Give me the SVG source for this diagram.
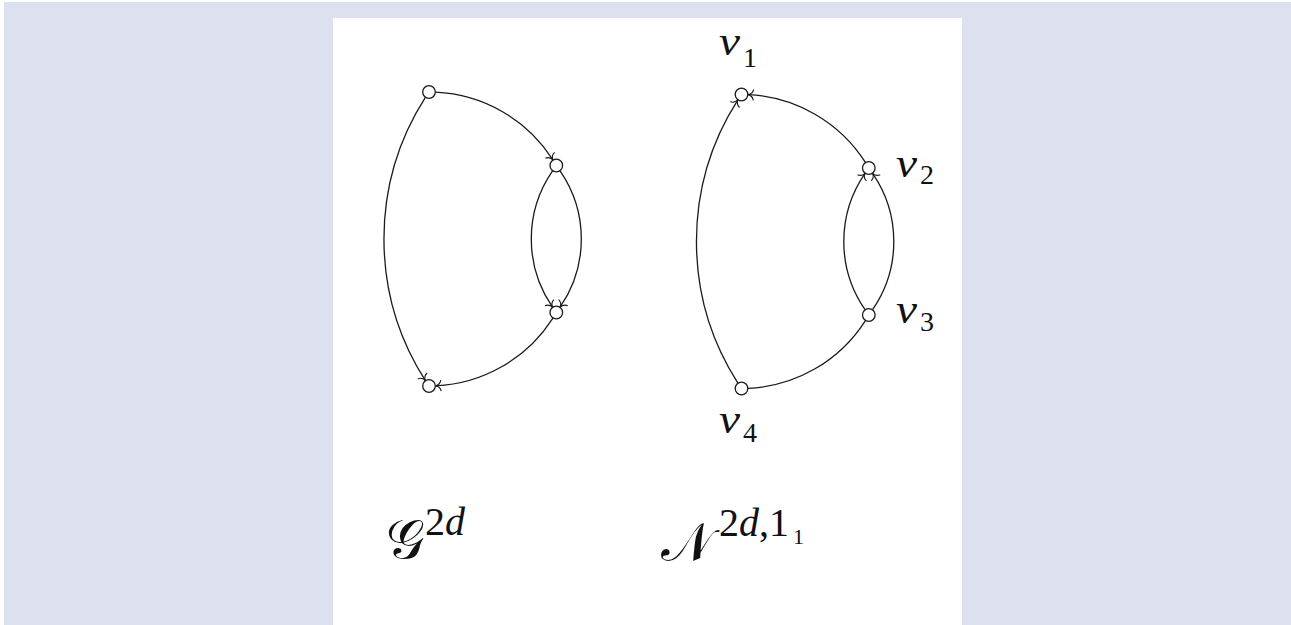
<svg xmlns="http://www.w3.org/2000/svg" width="1291" height="625" viewBox="0 0 1291 625">
<style>
.edge{fill:none;stroke:#1a1a1a;stroke-width:1.3}
.node{fill:#fff;stroke:#1a1a1a;stroke-width:1.3}
.m{font-family:"Liberation Serif","DejaVu Serif",serif;fill:#111}
.it{font-style:italic}
.v{font-size:39px}
.s{font-size:28px}
.sup{font-size:40px}
.ss{font-size:22px}
.cal{font-family:"DejaVu Sans","Noto Sans","Liberation Serif",serif;font-size:54px;fill:#111}
</style>
<defs>
<marker id="to" markerUnits="userSpaceOnUse" markerWidth="16" markerHeight="16" viewBox="-8 -8 16 16" refX="0" refY="0" orient="auto">
<path d="M -5.5 -5.5 C -5 -2 -2.2 -0.5 0 0 C -2.2 0.5 -5 2 -5.5 5.5" fill="none" stroke="#1a1a1a" stroke-width="1.1"/>
</marker>
</defs>
<rect x="0" y="0" width="1291" height="625" fill="#ffffff"/>
<rect x="4" y="2" width="1287" height="623" fill="#dde0ef"/>
<rect x="333" y="18" width="629" height="607" fill="#ffffff"/>

<g id="connectors">
<g id="left-edges">
<path class="edge" d="M 435.49 92.14 A 147 147 0 0 1 552.94 159.96" marker-end="url(#to)"/>
<path class="edge" d="M 425.4 97.4 A 262.6 262.6 0 0 0 425.4 380.6" marker-end="url(#to)"/>
<path class="edge" d="M 552.56 170.8 A 120 120 0 0 0 552.56 307.2" marker-end="url(#to)"/>
<path class="edge" d="M 560.04 170.8 A 120 120 0 0 1 560.04 307.2" marker-end="url(#to)"/>
<path class="edge" d="M 552.94 318.04 A 147 147 0 0 1 435.49 385.86" marker-end="url(#to)"/>
</g>
<g id="right-edges" transform="translate(312.5 2.5)">
<path class="edge" d="M 552.94 159.96 A 147 147 0 0 0 435.49 92.14" marker-end="url(#to)"/>
<path class="edge" d="M 425.4 380.6 A 262.6 262.6 0 0 1 425.4 97.4" marker-end="url(#to)"/>
<path class="edge" d="M 552.56 307.2 A 120 120 0 0 1 552.56 170.8" marker-end="url(#to)"/>
<path class="edge" d="M 560.04 307.2 A 120 120 0 0 0 560.04 170.8" marker-end="url(#to)"/>
<path class="edge" d="M 552.94 318.04 A 147 147 0 0 1 435.49 385.86"/>
</g>
</g>

<g id="g-n1"><circle class="node" cx="429" cy="92" r="6.3"/></g>
<g id="g-n2"><circle class="node" cx="556.3" cy="165.5" r="6.3"/></g>
<g id="g-n3"><circle class="node" cx="556.3" cy="312.5" r="6.3"/></g>
<g id="g-n4"><circle class="node" cx="429" cy="386" r="6.3"/></g>

<g id="v1"><circle class="node" cx="741.5" cy="94.5" r="6.3"/>
<text class="m"><tspan class="it v" x="719" y="55" textLength="21" lengthAdjust="spacingAndGlyphs">v</tspan><tspan class="s" x="743" y="67">1</tspan></text></g>
<g id="v2"><circle class="node" cx="868.8" cy="168" r="6.3"/>
<text class="m"><tspan class="it v" x="896" y="177" textLength="21" lengthAdjust="spacingAndGlyphs">v</tspan><tspan class="s" x="920" y="184">2</tspan></text></g>
<g id="v3"><circle class="node" cx="868.8" cy="315" r="6.3"/>
<text class="m"><tspan class="it v" x="896" y="323" textLength="21" lengthAdjust="spacingAndGlyphs">v</tspan><tspan class="s" x="920" y="331">3</tspan></text></g>
<g id="v4"><circle class="node" cx="741.5" cy="388.5" r="6.3"/>
<text class="m"><tspan class="it v" x="719" y="433" textLength="21" lengthAdjust="spacingAndGlyphs">v</tspan><tspan class="s" x="743" y="442">4</tspan></text></g>

<g id="label-G">
<text class="cal" x="386" y="558">𝒢</text>
<text class="m sup" x="425" y="535">2<tspan class="it">d</tspan></text>
</g>
<g id="label-N">
<text class="cal" x="661" y="561">𝒩</text>
<text class="m sup" x="719" y="536">2<tspan class="it">d</tspan>,1<tspan class="ss" x="793" y="544">1</tspan></text>
</g>
</svg>
